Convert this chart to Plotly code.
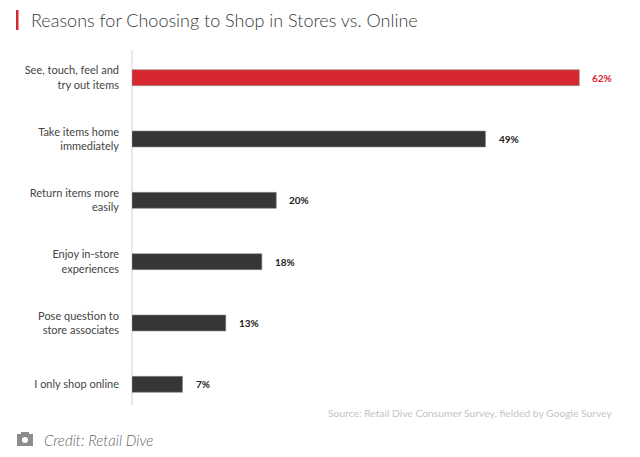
import plotly.graph_objects as go

categories = ["See, touch, feel and<br>try out items", "Take items home<br>immediately",
              "Return items more<br>easily", "Enjoy in-store<br>experiences",
              "Pose question to<br>store associates", "I only shop online"]
values = [62, 49, 20, 18, 13, 7]
labels = ["62%", "49%", "20%", "18%", "13%", "7%"]
colors = ["#d7282f", "#363636", "#363636", "#363636", "#363636", "#363636"]
label_colors = ["#d7282f", "#222222", "#222222", "#222222", "#222222", "#222222"]

FONT = "Lato"

# plot-area geometry (pixels)
L, R, T, B = 132, 637, 47, 415
W, H = R - L, B - T


def px(x):
    return (x - L) / W


def py(y):
    return (B - y) / H


fig = go.Figure()
fig.add_trace(go.Bar(
    x=values, y=categories, orientation="h",
    marker=dict(color=colors, line=dict(color="#8a8a8a", width=0.6)),
    hoverinfo="skip",
))

for v, c, t, lc in zip(values, categories, labels, label_colors):
    fig.add_annotation(x=v, y=c, text="<b>" + t + "</b>", showarrow=False,
                       xanchor="left", xshift=11, font=dict(family=FONT, size=10, color=lc))

fig.update_layout(
    width=640, height=457,
    margin=dict(l=L, r=640 - R, t=T, b=457 - B, autoexpand=False),
    paper_bgcolor="white", plot_bgcolor="white",
    showlegend=False,
    bargap=0.74,
    font=dict(family=FONT, color="#444444"),
    xaxis=dict(range=[0, 70], showgrid=False, zeroline=False, showticklabels=False,
               showline=False, fixedrange=True),
    yaxis=dict(categoryorder="array", categoryarray=categories[::-1], autorange=False,
               range=[-0.5, 5.5], automargin=False, fixedrange=True,
               showgrid=False, zeroline=False, showline=False,
               ticks="", ticklabelstandoff=12, tickfont=dict(family=FONT, size=11, color="#444444")),
)

# light vertical axis line
fig.add_shape(type="line", xref="paper", yref="paper", x0=0, x1=0, y0=py(405), y1=py(50),
              line=dict(color="#e2e2e2", width=1.5), layer="below")

# title with red accent bar
fig.add_shape(type="rect", xref="paper", yref="paper",
              x0=px(16), x1=px(18.5), y0=py(10), y1=py(30),
              fillcolor="#d7282f", line=dict(width=0))
fig.add_annotation(xref="paper", yref="paper", x=px(29), y=py(20), xanchor="left", yanchor="middle",
                   text="Reasons for Choosing to Shop in Stores vs. Online", showarrow=False,
                   font=dict(family=FONT, size=18, color="#3a3a3a", weight=300))

# source
fig.add_annotation(xref="paper", yref="paper", x=px(615), y=py(413), xanchor="right", yanchor="middle",
                   text="Source: Retail Dive Consumer Survey, fielded by Google Survey",
                   showarrow=False, font=dict(family=FONT, size=10.3, color="#c4c4c4"))

# credit
fig.add_annotation(xref="paper", yref="paper", x=px(42), y=py(440), xanchor="left", yanchor="middle",
                   text="<i>Credit: Retail Dive</i>", showarrow=False,
                   font=dict(family=FONT, size=15, color="#666666", weight=300))

# camera icon
fig.add_shape(type="rect", xref="paper", yref="paper",
              x0=px(17), x1=px(33), y0=py(434), y1=py(446),
              fillcolor="#8c8c8c", line=dict(width=0))
fig.add_shape(type="rect", xref="paper", yref="paper",
              x0=px(21), x1=px(29), y0=py(432), y1=py(435),
              fillcolor="#8c8c8c", line=dict(width=0))
fig.add_shape(type="circle", xref="paper", yref="paper",
              x0=px(22), x1=px(28), y0=py(437), y1=py(443),
              fillcolor="white", line=dict(width=0))

fig.write_html("out.html", config={"displayModeBar": False, "staticPlot": True},
               post_script="document.body.style.margin='0';")
